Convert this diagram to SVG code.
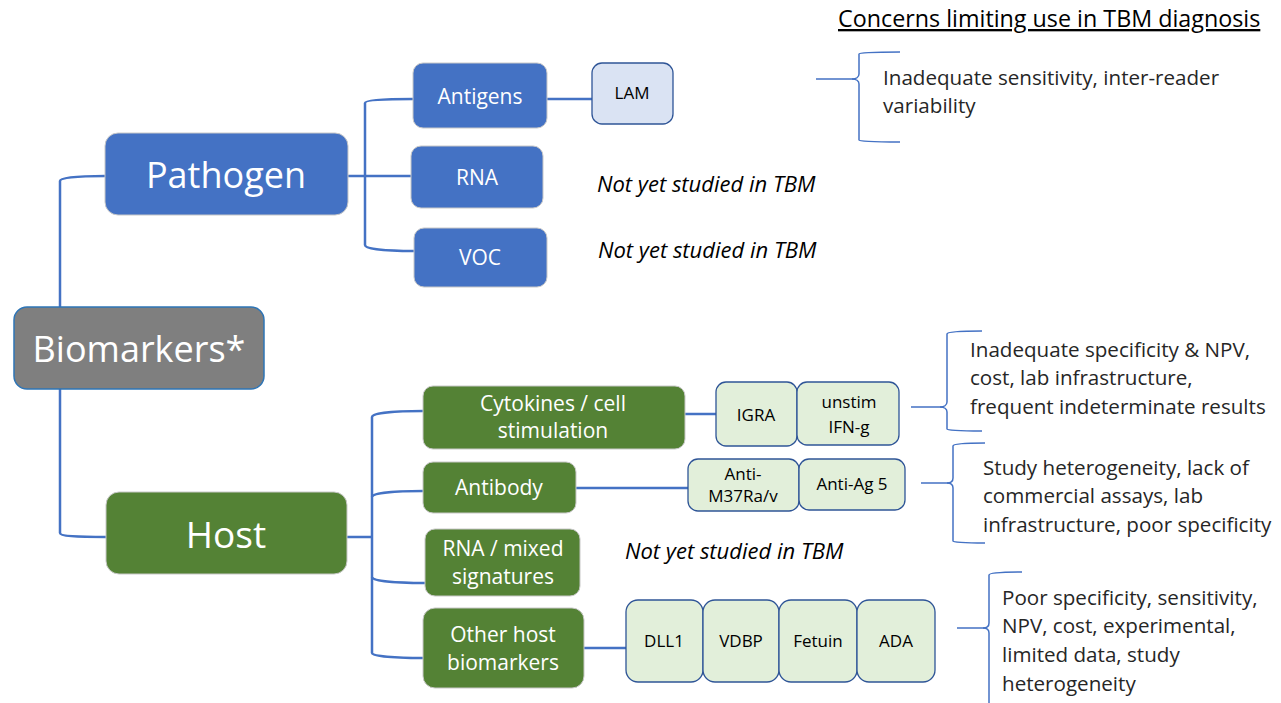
<svg xmlns="http://www.w3.org/2000/svg" width="1281" height="703" viewBox="0 0 1281 703">
<style>
text{font-family:"Open Sans","Noto Sans","Liberation Sans",sans-serif}
.w{fill:#ffffff;text-anchor:middle}
.k{fill:#000000;text-anchor:middle;font-size:17px}
.blue{fill:#4472c4;stroke:#c8c8c8;stroke-width:1}
.green{fill:#548235;stroke:#c8c8c8;stroke-width:1}
.lb{fill:#dae3f3;stroke:#2f5597;stroke-width:1.3}
.lg{fill:#e2efda;stroke:#2f5597;stroke-width:1.3}
.c{fill:none;stroke:#4472c4;stroke-width:2.5}
.br{fill:none;stroke:#4472c4;stroke-width:1.5}
.note{font-size:20.6px;fill:#262626}
.it{font-size:22px;font-style:italic;fill:#000}
</style>
<rect width="1281" height="703" fill="#ffffff"/>
<g id="connectors">
<path class="c" d="M60,307 V181 C60,178 75,176 105,176"/>
<path class="c" d="M60,389 V533 C60,536 75,537 106,537"/>
<path class="c" d="M348,176 H411"/>
<path class="c" d="M413,99 C385,99 365,100 365,103 V245 C365,249 385,251 414,251"/>
<path class="c" d="M547,99 H592"/>
<path class="c" d="M336,537 H372"/>
<path class="c" d="M423,411 C395,411 372,413 372,417 V653 C372,656 395,658 423,658"/>
<path class="c" d="M372,497 C372,493 395,491 423,491"/>
<path class="c" d="M372,577 C372,581 395,583 425,583"/>
<path class="c" d="M685,414 H716"/>
<path class="c" d="M576,488 H688"/>
<path class="c" d="M584,648 H627"/>
</g>
<g id="brackets">
<path class="br" d="M816,79 H852 C856,79 859,77 859,74 V54 C859,53 870,52 900,52"/>
<path class="br" d="M852,79 C856,79 859,81 859,84 V140 C859,141 870,142 900,142"/>
<path class="br" d="M911,407 H940 C944,407 947,405 947,402 V334 C947,332 958,331 982,331"/>
<path class="br" d="M940,407 C944,407 947,409 947,412 V429 C947,430 958,431 982,431"/>
<path class="br" d="M921,483 H947 C951,483 953,481 953,478 V446 C953,444 964,443 985,443"/>
<path class="br" d="M947,483 C951,483 953,485 953,488 V541 C953,542 964,543 985,543"/>
<path class="br" d="M957,628 H983 C987,628 989,626 989,623 V575 C989,573 1000,572 1022,572"/>
<path class="br" d="M983,628 C987,628 989,630 989,633 V703"/>
</g>
<g id="biomarkers">
<rect x="14" y="307" width="250" height="82" rx="13" fill="#7f7f7f" stroke="#2e75b6" stroke-width="1.5"/>
<text class="w" x="139" y="362" font-size="36">Biomarkers*</text>
</g>
<g id="pathogen">
<rect class="blue" x="105" y="133" width="243" height="82" rx="13"/>
<text class="w" x="226" y="188" font-size="36">Pathogen</text>
</g>
<g id="host">
<rect class="green" x="106" y="492" width="241" height="82" rx="13"/>
<text class="w" x="226" y="548" font-size="37">Host</text>
</g>
<g id="antigens">
<rect class="blue" x="413" y="63" width="134" height="65" rx="10"/>
<text class="w" x="480" y="104" font-size="21">Antigens</text>
</g>
<g id="lam">
<rect class="lb" x="592" y="63" width="81" height="61" rx="10"/>
<text class="k" x="632" y="99">LAM</text>
</g>
<g id="rna">
<rect class="blue" x="411" y="146" width="132" height="62" rx="10"/>
<text class="w" x="477" y="185" font-size="21">RNA</text>
</g>
<g id="voc">
<rect class="blue" x="414" y="228" width="133" height="59" rx="10"/>
<text class="w" x="480" y="265" font-size="21">VOC</text>
</g>
<g id="cytokines">
<rect class="green" x="423" y="386" width="262" height="63" rx="10"/>
<text class="w" x="553" y="411" font-size="21">Cytokines / cell</text>
<text class="w" x="553" y="438" font-size="21">stimulation</text>
</g>
<g id="igra">
<rect class="lg" x="716" y="382" width="81" height="64" rx="10"/>
<text class="k" x="756" y="421">IGRA</text>
</g>
<g id="unstim">
<rect class="lg" x="797" y="382" width="102" height="63" rx="10"/>
<text class="k" x="849" y="408">unstim</text>
<text class="k" x="849" y="433">IFN-g</text>
</g>
<g id="antibody">
<rect class="green" x="423" y="462" width="153" height="51" rx="10"/>
<text class="w" x="499" y="495" font-size="21">Antibody</text>
</g>
<g id="antim37">
<rect class="lg" x="688" y="459" width="111" height="52" rx="10"/>
<text class="k" x="743" y="480">Anti-</text>
<text class="k" x="743" y="502">M37Ra/v</text>
</g>
<g id="antiag5">
<rect class="lg" x="799" y="459" width="106" height="51" rx="10"/>
<text class="k" x="852" y="490">Anti-Ag 5</text>
</g>
<g id="rnamixed">
<rect class="green" x="425" y="529" width="155" height="67" rx="10"/>
<text class="w" x="503" y="556" font-size="21">RNA / mixed</text>
<text class="w" x="503" y="584" font-size="21">signatures</text>
</g>
<g id="otherhost">
<rect class="green" x="423" y="608" width="161" height="80" rx="12"/>
<text class="w" x="503" y="642" font-size="21">Other host</text>
<text class="w" x="503" y="670" font-size="21">biomarkers</text>
</g>
<g id="dll1">
<rect class="lg" x="626" y="600" width="77" height="82" rx="12"/>
<text class="k" x="664" y="647">DLL1</text>
</g>
<g id="vdbp">
<rect class="lg" x="703" y="600" width="76" height="82" rx="12"/>
<text class="k" x="741" y="647">VDBP</text>
</g>
<g id="fetuin">
<rect class="lg" x="779" y="600" width="78" height="82" rx="12"/>
<text class="k" x="818" y="647">Fetuin</text>
</g>
<g id="ada">
<rect class="lg" x="857" y="600" width="78" height="82" rx="12"/>
<text class="k" x="896" y="647">ADA</text>
</g>
<g id="labels">
<text class="it" x="597" y="192">Not yet studied in TBM</text>
<text class="it" x="598" y="258">Not yet studied in TBM</text>
<text class="it" x="625" y="559">Not yet studied in TBM</text>
<text x="838" y="27" font-size="23.3" fill="#000" text-decoration="underline">Concerns limiting use in TBM diagnosis</text>
<text class="note" x="883" y="85">Inadequate sensitivity, inter-reader</text>
<text class="note" x="883" y="113">variability</text>
<text class="note" x="970" y="357">Inadequate specificity &amp; NPV,</text>
<text class="note" x="970" y="385">cost, lab infrastructure,</text>
<text class="note" x="970" y="414">frequent indeterminate results</text>
<text class="note" x="983" y="475">Study heterogeneity, lack of</text>
<text class="note" x="983" y="503">commercial assays, lab</text>
<text class="note" x="983" y="532">infrastructure, poor specificity</text>
<text class="note" x="1002" y="605">Poor specificity, sensitivity,</text>
<text class="note" x="1002" y="633">NPV, cost, experimental,</text>
<text class="note" x="1002" y="662">limited data, study</text>
<text class="note" x="1002" y="691">heterogeneity</text>
</g>
</svg>
